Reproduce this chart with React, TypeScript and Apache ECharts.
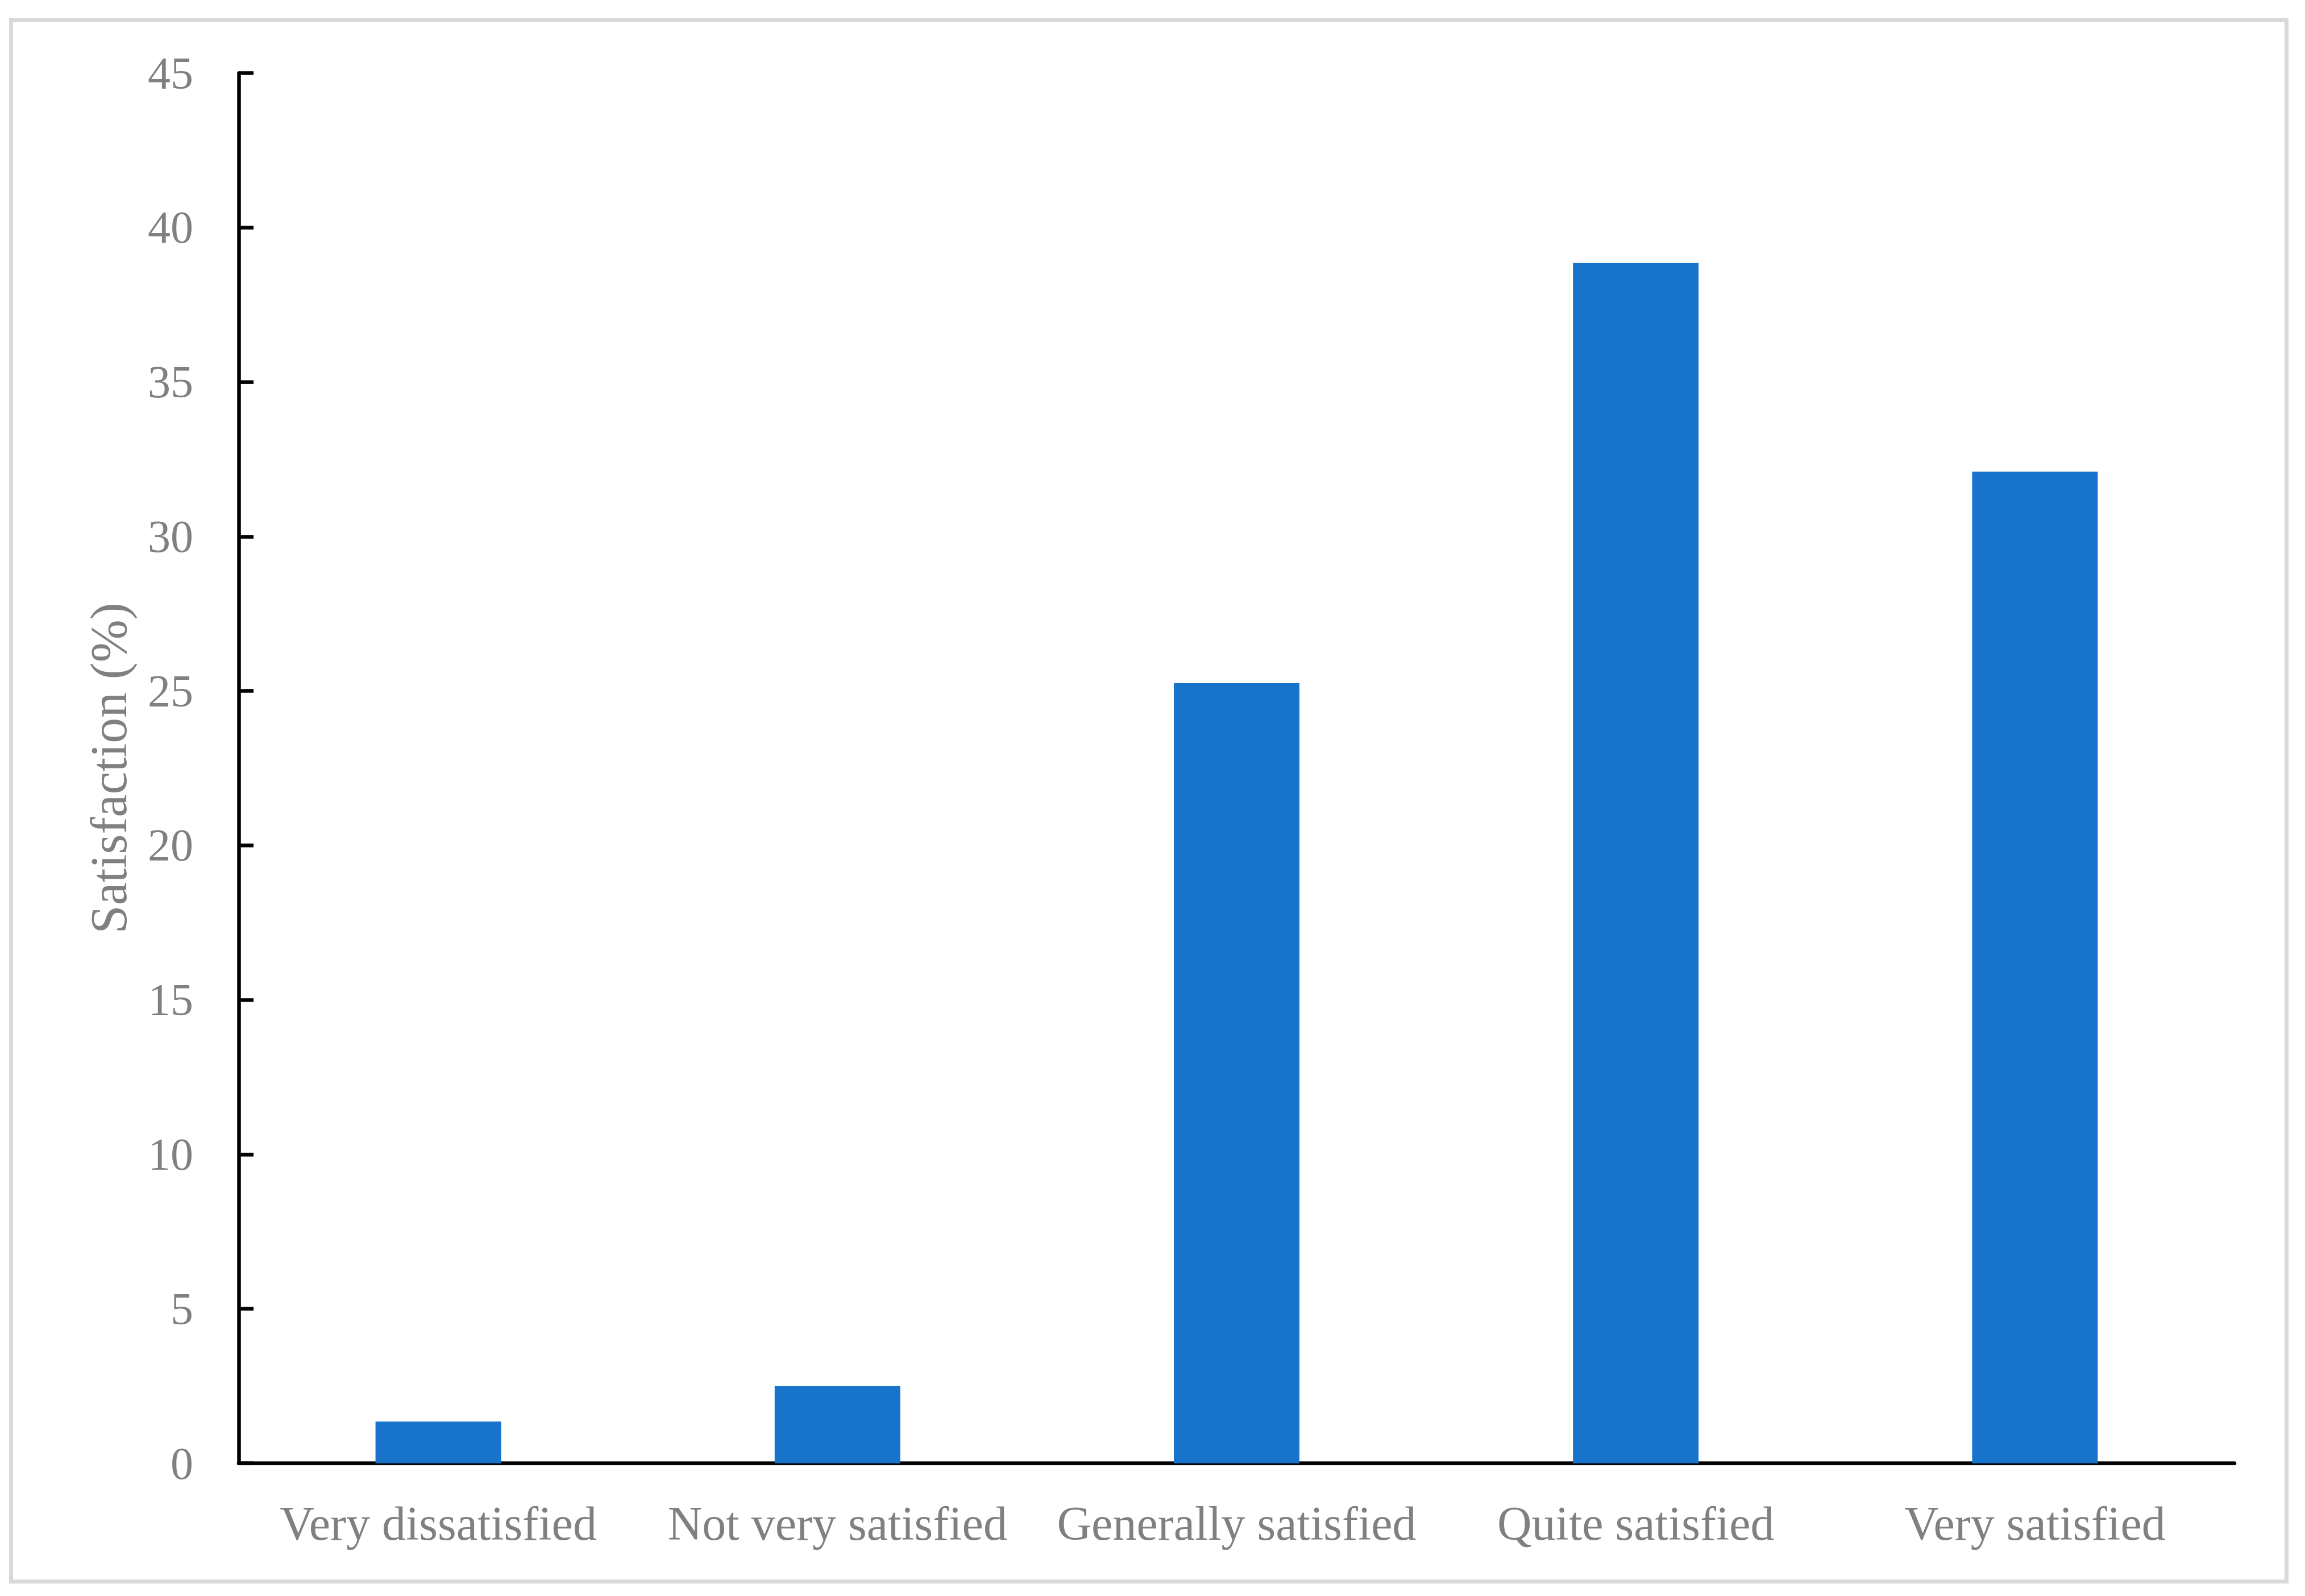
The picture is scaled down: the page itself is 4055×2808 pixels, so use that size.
import React, { useEffect, useRef } from "react";
import * as echarts from "echarts";

const categories: string[] = [
  "Very dissatisfied",
  "Not very satisfied",
  "Generally satisfied",
  "Quite satisfied",
  "Very satisfied",
];
const satisfaction: number[] = [1.35, 2.5, 25.25, 38.85, 32.1];
const yTicks = { min: 0, max: 45, interval: 5 };

const FONT = "'Liberation Serif', 'DejaVu Serif', serif";
const GRAY = "#808080";

export default function App() {
  const ref = useRef<HTMLDivElement>(null);
  useEffect(() => {
    if (!ref.current) return;
    const chart = echarts.init(ref.current, undefined, { renderer: "svg" });
    chart.setOption({
      animation: false,
      backgroundColor: "#ffffff",
      graphic: [
        {
          type: "rect",
          shape: { x: 19.5, y: 35.5, width: 4003, height: 2747 },
          style: { fill: "none", stroke: "#d9d9d9", lineWidth: 7 },
          silent: true,
        },
      ],
      grid: { left: 420, right: 124, top: 128.5, bottom: 233.5, containLabel: false },
      xAxis: {
        type: "category",
        data: categories,
        axisLine: { show: true, lineStyle: { color: "#000000", width: 6.5 } },
        axisTick: { show: false },
        axisLabel: { color: GRAY, fontSize: 84, fontFamily: FONT, margin: 64, interval: 0 },
        splitLine: { show: false },
      },
      yAxis: {
        type: "value",
        min: yTicks.min,
        max: yTicks.max,
        interval: yTicks.interval,
        name: "Satisfaction (%)",
        nameLocation: "middle",
        nameGap: 184,
        nameRotate: 90,
        nameTextStyle: { color: GRAY, fontSize: 90, fontFamily: FONT },
        axisLine: { show: true, lineStyle: { color: "#000000", width: 6.5 } },
        axisTick: { show: true, inside: true, length: 26, lineStyle: { color: "#000000", width: 6.5 } },
        axisLabel: { color: GRAY, fontSize: 80, fontFamily: FONT, margin: 80 },
        splitLine: { show: false },
      },
      series: [
        {
          type: "bar",
          data: satisfaction,
          barWidth: 221,
          itemStyle: { color: "#1874CB" },
        },
      ],
    });
    return () => chart.dispose();
  }, []);
  return (
    <div
      ref={ref}
      style={{ position: "absolute", left: 0, top: 0, width: 4055, height: 2808, background: "#ffffff" }}
    />
  );
}
